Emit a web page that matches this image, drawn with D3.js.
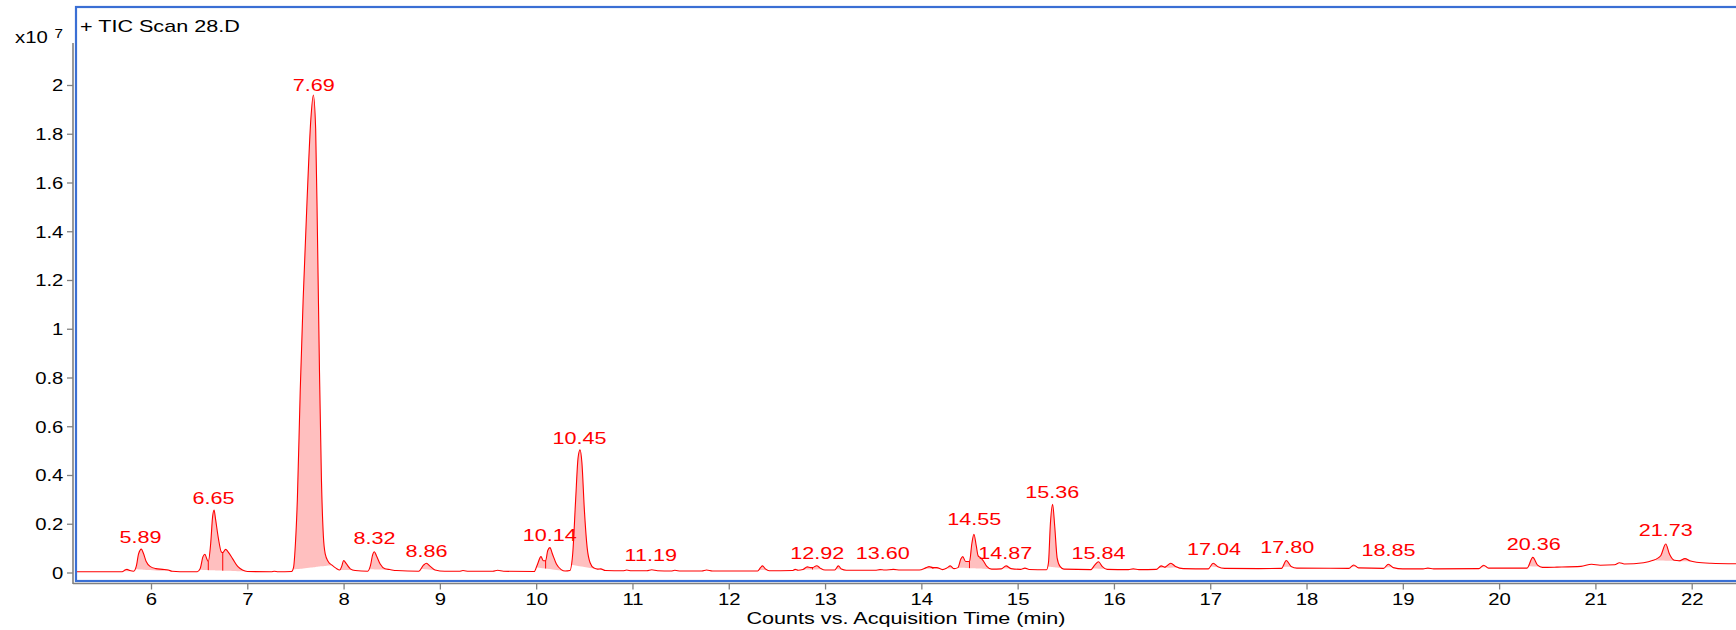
<!DOCTYPE html>
<html>
<head>
<meta charset="utf-8">
<script src="https://cdn.jsdelivr.net/npm/d3@7"></script>
<style>
  body { margin: 0; background: #fff; }
  svg { display: block; font-family: "Liberation Sans", Arial, sans-serif; }
</style>
</head>
<body>
<svg id="chart" width="1736" height="630"></svg>
<script>
// TIC trace: [time (min), counts x1e7]
var trace = [
  [5.21, 0.003], [5.70, 0.003], [5.73, 0.010], [5.75, 0.013], [5.78, 0.008], [5.82, 0.005],
  [5.85, 0.030], [5.87, 0.075], [5.90, 0.096], [5.92, 0.080], [5.95, 0.045], [5.99, 0.025],
  [6.05, 0.016], [6.12, 0.013], [6.18, 0.010], [6.22, 0.005], [6.30, 0.003], [6.48, 0.003],
  [6.51, 0.015], [6.54, 0.065], [6.56, 0.075], [6.58, 0.055], [6.595, 0.045], [6.62, 0.120],
  [6.64, 0.230], [6.655, 0.256], [6.67, 0.220], [6.70, 0.140], [6.73, 0.085], [6.745, 0.082],
  [6.775, 0.095], [6.80, 0.085], [6.85, 0.055], [6.90, 0.025], [6.95, 0.010], [7.00, 0.004],
  [7.25, 0.003], [7.28, 0.005], [7.32, 0.003], [7.46, 0.004],
  [7.48, 0.020], [7.50, 0.120], [7.52, 0.300], [7.55, 0.750], [7.58, 1.120], [7.62, 1.520],
  [7.66, 1.860], [7.686, 1.959], [7.71, 1.820], [7.73, 1.350], [7.75, 0.820], [7.77, 0.380],
  [7.79, 0.150], [7.81, 0.075], [7.84, 0.045], [7.88, 0.030], [7.92, 0.018], [7.96, 0.010],
  [7.98, 0.025], [8.00, 0.049], [8.03, 0.035], [8.07, 0.015], [8.12, 0.008], [8.25, 0.005],
  [8.28, 0.030], [8.30, 0.070], [8.32, 0.085], [8.34, 0.070], [8.38, 0.035], [8.43, 0.015],
  [8.48, 0.012], [8.55, 0.008], [8.78, 0.005], [8.83, 0.030], [8.86, 0.038], [8.90, 0.025],
  [8.95, 0.010], [9.05, 0.005], [9.20, 0.005], [9.24, 0.008], [9.30, 0.005], [9.55, 0.005],
  [9.60, 0.009], [9.66, 0.005], [9.98, 0.004], [10.01, 0.030], [10.05, 0.065], [10.075, 0.048],
  [10.098, 0.048], [10.12, 0.090], [10.143, 0.102], [10.17, 0.075], [10.21, 0.035], [10.26, 0.012],
  [10.30, 0.006], [10.35, 0.008], [10.38, 0.080], [10.41, 0.300], [10.435, 0.470], [10.455, 0.503],
  [10.475, 0.450], [10.50, 0.260], [10.53, 0.100], [10.56, 0.040], [10.60, 0.018], [10.64, 0.014],
  [10.67, 0.015], [10.72, 0.008], [10.90, 0.007], [10.94, 0.010], [10.99, 0.007], [11.15, 0.007],
  [11.20, 0.011], [11.26, 0.007], [11.40, 0.006], [11.44, 0.009], [11.50, 0.006], [11.72, 0.006],
  [11.77, 0.010], [11.83, 0.006], [12.30, 0.006], [12.33, 0.020], [12.35, 0.027], [12.38, 0.015],
  [12.42, 0.007], [12.66, 0.008], [12.69, 0.013], [12.72, 0.009], [12.77, 0.012], [12.815, 0.023],
  [12.85, 0.020], [12.87, 0.020], [12.913, 0.028], [12.95, 0.018], [13.00, 0.010], [13.10, 0.010],
  [13.138, 0.027], [13.17, 0.014], [13.22, 0.009], [13.52, 0.009], [13.57, 0.012], [13.62, 0.010],
  [13.71, 0.013], [13.78, 0.010], [13.98, 0.010], [14.05, 0.020], [14.08, 0.024], [14.12, 0.020],
  [14.16, 0.020], [14.22, 0.012], [14.27, 0.020], [14.30, 0.027], [14.34, 0.016], [14.38, 0.020],
  [14.41, 0.055], [14.43, 0.065], [14.46, 0.045], [14.50, 0.045], [14.525, 0.120], [14.546, 0.157],
  [14.57, 0.110], [14.59, 0.068], [14.61, 0.062], [14.64, 0.050], [14.68, 0.025], [14.73, 0.014],
  [14.83, 0.015], [14.88, 0.027], [14.93, 0.016], [15.03, 0.013], [15.076, 0.018], [15.12, 0.012],
  [15.30, 0.011], [15.32, 0.040], [15.34, 0.200], [15.363, 0.280], [15.385, 0.190], [15.41, 0.060],
  [15.44, 0.025], [15.48, 0.014], [15.76, 0.012], [15.80, 0.030], [15.84, 0.044], [15.88, 0.024],
  [15.93, 0.013], [16.15, 0.012], [16.20, 0.015], [16.26, 0.012], [16.44, 0.013], [16.49, 0.027],
  [16.53, 0.022], [16.59, 0.038], [16.64, 0.025], [16.72, 0.016], [16.98, 0.015], [17.03, 0.038],
  [17.08, 0.024], [17.15, 0.017], [17.50, 0.016], [17.74, 0.017], [17.79, 0.049], [17.84, 0.025],
  [17.90, 0.018], [18.44, 0.017], [18.49, 0.031], [18.54, 0.019], [18.80, 0.017], [18.85, 0.034],
  [18.90, 0.020], [19.00, 0.015], [19.21, 0.015], [19.26, 0.018], [19.32, 0.015], [19.79, 0.016],
  [19.84, 0.030], [19.89, 0.018], [20.29, 0.018], [20.35, 0.062], [20.40, 0.030], [20.45, 0.021],
  [20.60, 0.022], [20.85, 0.025], [20.96, 0.034], [21.05, 0.030], [21.20, 0.032], [21.25, 0.040],
  [21.30, 0.035], [21.50, 0.040], [21.60, 0.050], [21.64, 0.057], [21.68, 0.070], [21.73, 0.117],
  [21.77, 0.075], [21.82, 0.050], [21.87, 0.048], [21.93, 0.057], [21.98, 0.048], [22.05, 0.042],
  [22.20, 0.038], [22.46, 0.036]
];

// integrated regions (start, end) that get the pink fill
var peakWindows = [
  [5.71, 5.81], [5.83, 6.22], [6.50, 6.595], [6.595, 6.745], [6.745, 7.00],
  [7.47, 7.88], [7.96, 8.10], [8.26, 8.50], [8.80, 8.97],
  [10.00, 10.098], [10.098, 10.30], [10.36, 10.64], [10.64, 10.72],
  [12.31, 12.41], [12.66, 12.72], [12.76, 12.87], [12.87, 12.98], [13.11, 13.20],
  [14.02, 14.12], [14.12, 14.20], [14.25, 14.34], [14.38, 14.50], [14.50, 14.73],
  [14.84, 14.93], [15.31, 15.47], [15.77, 15.92], [16.46, 16.53], [16.53, 16.68],
  [17.00, 17.10], [17.75, 17.86], [18.46, 18.53], [18.81, 18.89], [19.81, 19.88],
  [20.30, 20.43], [21.60, 21.87], [21.87, 22.02]
];

// peak labels: retention time and the height the label sits on
var labelTimes   = [5.89, 6.65, 7.69, 8.32, 8.86, 10.14, 10.45, 11.19, 12.92, 13.60,
                    14.55, 14.87, 15.36, 15.84, 17.04, 17.80, 18.85, 20.36, 21.73];
var labelHeights = [0.105, 0.265, 1.96, 0.10, 0.047, 0.114, 0.509, 0.032, 0.041, 0.038,
                    0.177, 0.041, 0.291, 0.041, 0.054, 0.063, 0.05, 0.077, 0.132];

var yTicks = [0, 0.2, 0.4, 0.6, 0.8, 1, 1.2, 1.4, 1.6, 1.8, 2];
var xTicks = [6, 7, 8, 9, 10, 11, 12, 13, 14, 15, 16, 17, 18, 19, 20, 21, 22];

var svg = d3.select("#chart");
var W = 1736, H = 630;
var stretch = "scale(1.27,1)";   // the source text is wider than it is tall

var frameL = 76, frameT = 7, frameB = 581;

var x = d3.scaleLinear().domain([6, 22]).range([151, 1691.7]);
var y = d3.scaleLinear().domain([0, 2]).range([572.5, 85]);

var bis = d3.bisector(function(d) { return d[0]; }).left;
function valueAt(t) {
  var i = bis(trace, t);
  if (i <= 0) return trace[0][1];
  if (i >= trace.length) return trace[trace.length - 1][1];
  var a = trace[i - 1], b = trace[i];
  return a[1] + (b[1] - a[1]) * (t - a[0]) / (b[0] - a[0]);
}

// windows that touch share one baseline (drop-line split)
var groups = [];
peakWindows.forEach(function(w) {
  var last = groups[groups.length - 1];
  if (last && last.end === w[0]) { last.end = w[1]; last.splits.push(w[0]); last.wins.push(w); }
  else groups.push({ start: w[0], end: w[1], splits: [], wins: [w] });
});
groups.forEach(function(g) {
  var v0 = valueAt(g.start), v1 = valueAt(g.end);
  g.base = function(t) { return v0 + (v1 - v0) * (t - g.start) / (g.end - g.start); };
});

svg.append("clipPath").attr("id", "plotclip")
  .append("rect")
    .attr("x", frameL).attr("y", frameT)
    .attr("width", W - frameL).attr("height", frameB - frameT);

var plot = svg.append("g").attr("clip-path", "url(#plotclip)");

// filled peaks
var area = d3.area()
    .curve(d3.curveMonotoneX)
    .x(function(d) { return x(d[0]); })
    .y1(function(d) { return y(d[1]); })
    .y0(function(d) { return y(d[2]); });

groups.forEach(function(g) {
  g.wins.forEach(function(w) {
    var pts = [[w[0], valueAt(w[0]), g.base(w[0])]];
    trace.forEach(function(d) {
      if (d[0] > w[0] && d[0] < w[1]) pts.push([d[0], d[1], g.base(d[0])]);
    });
    pts.push([w[1], valueAt(w[1]), g.base(w[1])]);
    plot.append("path")
      .attr("d", area(pts))
      .attr("fill", "#ffbfbf")
      .attr("stroke", "none");
  });
  // drop lines at split points
  plot.selectAll(null)
    .data(g.splits)
    .enter()
    .append("line")
      .attr("x1", function(d) { return x(d); })
      .attr("x2", function(d) { return x(d); })
      .attr("y1", function(d) { return y(valueAt(d)); })
      .attr("y2", function(d) { return y(g.base(d)); })
      .attr("stroke", "#ff0000")
      .attr("stroke-width", 1);
});

var line = d3.line()
    .curve(d3.curveMonotoneX)
    .x(function(d) { return x(d[0]); })
    .y(function(d) { return y(d[1]); });

plot.append("path")
  .datum(trace)
  .attr("d", line)
  .attr("fill", "none")
  .attr("stroke", "#ff0000")
  .attr("stroke-width", 1.1);

// peak labels
plot.selectAll(".plabel")
  .data(labelTimes)
  .enter()
  .append("text")
    .classed("plabel", true)
    .attr("transform", function(d, i) {
      return "translate(" + x(d) + "," + (y(labelHeights[i]) - 4) + ") " + stretch;
    })
    .attr("text-anchor", "middle")
    .attr("font-size", 17)
    .attr("fill", "#ff0000")
    .text(function(d) { return d.toFixed(2); });

// blue frame
svg.append("rect")
  .attr("x", frameL).attr("y", frameT)
  .attr("width", W + 10 - frameL).attr("height", frameB - frameT)
  .attr("fill", "none")
  .attr("stroke", "#3a6fd4")
  .attr("stroke-width", 2.2);

// axes
var yAxis = d3.axisLeft(y)
    .tickValues(yTicks)
    .tickSize(6)
    .tickFormat(function(d) { return String(+d.toFixed(1)); });

var gy = svg.append("g")
  .attr("transform", "translate(73,0)")
  .call(yAxis);
gy.select(".domain").remove();
gy.selectAll(".tick line").attr("stroke", "#808080").attr("stroke-width", 1.3);
gy.selectAll("text")
  .attr("x", -7.6)
  .attr("dy", "0.36em")
  .attr("transform", stretch)
  .attr("font-size", 16)
  .attr("fill", "#000");

var xAxis = d3.axisBottom(x)
    .tickValues(xTicks)
    .tickSize(6)
    .tickFormat(d3.format("d"));

var gx = svg.append("g")
  .attr("transform", "translate(0,583.5)")
  .call(xAxis);
gx.select(".domain").remove();
gx.selectAll(".tick line").attr("stroke", "#808080").attr("stroke-width", 1.3);
gx.selectAll("text")
  .attr("x", 0)
  .attr("y", 21.5)
  .attr("dy", 0)
  .attr("transform", stretch)
  .attr("font-size", 16)
  .attr("fill", "#000");

// gray axis lines outside the frame
svg.append("line")
  .attr("x1", 73).attr("x2", 73)
  .attr("y1", 43).attr("y2", 584)
  .attr("stroke", "#808080").attr("stroke-width", 1.6);
svg.append("line")
  .attr("x1", 73).attr("x2", W)
  .attr("y1", 583.5).attr("y2", 583.5)
  .attr("stroke", "#808080").attr("stroke-width", 1.6);

// texts
svg.append("text")
  .attr("transform", "translate(80,31.5) " + stretch)
  .attr("font-size", 17)
  .text("+ TIC Scan 28.D");

svg.append("text")
  .attr("transform", "translate(15,43.3) " + stretch)
  .attr("font-size", 16)
  .text("x10");
svg.append("text")
  .attr("transform", "translate(54.5,38) " + stretch)
  .attr("font-size", 12)
  .text("7");

svg.append("text")
  .attr("transform", "translate(906,623.5) " + stretch)
  .attr("text-anchor", "middle")
  .attr("font-size", 17)
  .text("Counts vs. Acquisition Time (min)");
</script>
</body>
</html>
